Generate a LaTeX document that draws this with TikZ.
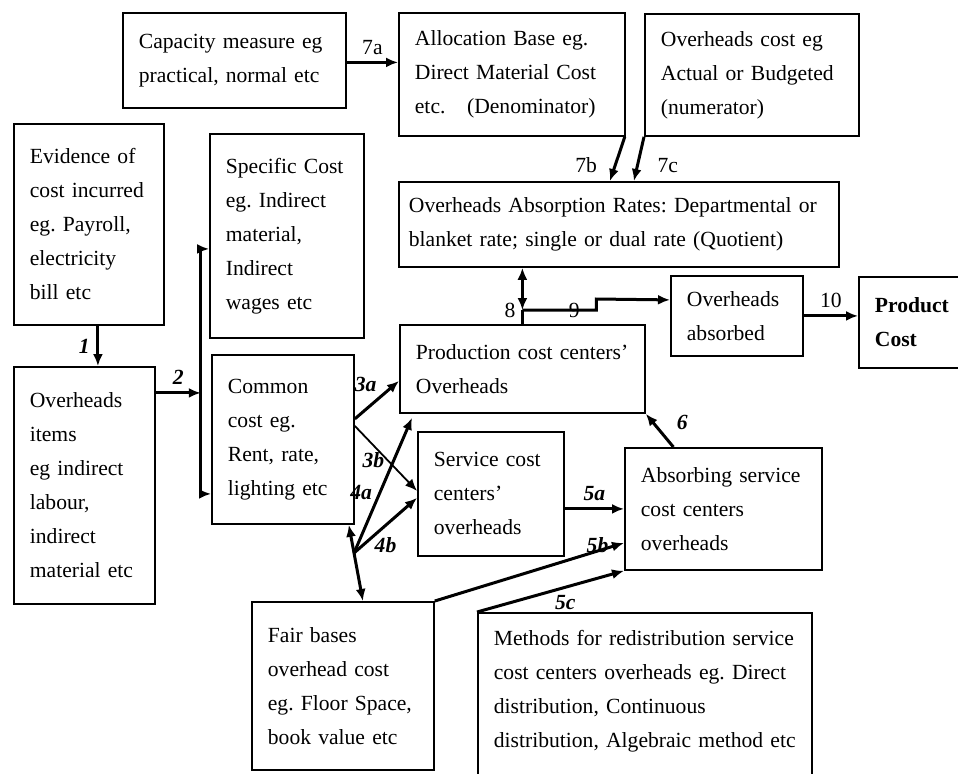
\documentclass[tikz,border=0pt]{standalone}
\usepackage{fontspec}
\setmainfont{Liberation Serif}
\usetikzlibrary{arrows.meta}
\frenchspacing

\begin{document}
\begin{tikzpicture}[x=0.5pt,y=-0.5pt,
  every node/.style={font=\fontsize{10.8}{17}\selectfont},
  box/.style={draw,line width=0.9pt,anchor=north west,align=left,inner xsep=8pt},
  link/.style={line width=1.5pt,->},
  tag/.style={font=\fontsize{10.8}{17}\selectfont\bfseries\itshape},
  >={Latex[length=6pt,width=5pt]}]
  \useasboundingbox (0,0) rectangle (958,773);
  \node[box,text width=95.5pt,minimum height=47.5pt] (cap) at (122,12) {Capacity measure eg\\practical, normal etc};
  \node[box,text width=97pt,minimum height=61.5pt] (alloc) at (398,12) {Allocation Base eg.\\Direct Material Cost\\etc.\quad (Denominator)};
  \node[box,text width=91pt,minimum height=61pt] (ohcost) at (644,13) {Overheads cost eg\\Actual or Budgeted\\(numerator)};
  \node[box,text width=59pt,minimum height=100.5pt] (evid) at (13,123) {Evidence of\\cost incurred\\eg. Payroll,\\electricity\\bill etc};
  \node[box,text width=61pt,minimum height=102pt] (spec) at (209,133) {Specific Cost\\eg. Indirect\\material,\\Indirect\\wages etc};
  \node[box,text width=54.5pt,minimum height=118.5pt] (items) at (13,366) {Overheads\\items\\eg indirect\\labour,\\indirect\\material etc};
  \node[box,text width=55pt,minimum height=84.5pt] (common) at (211,354) {Common\\cost eg.\\Rent, rate,\\lighting etc};
  \node[box,text width=210pt,inner xsep=5pt,minimum height=42.5pt] (rates) at (398,181) {Overheads Absorption Rates: Departmental or\\blanket rate; single or dual rate (Quotient)};
  \node[box,text width=50pt,minimum height=40pt] (absorbed) at (670,275) {Overheads\\absorbed};
  \node[box,text width=40pt,minimum height=45.5pt,font=\fontsize{10.8}{17}\selectfont\bfseries] (product) at (858,276) {Product\\Cost};
  \node[box,text width=106.5pt,minimum height=44pt] (prod) at (399,324) {Production cost centers’\\Overheads};
  \node[box,text width=57pt,minimum height=62pt] (service) at (417,431) {Service cost\\centers’\\overheads};
  \node[box,text width=82.5pt,minimum height=61pt] (absorbing) at (624,447) {Absorbing service\\cost centers\\overheads};
  \node[box,text width=75pt,minimum height=84pt] (fair) at (251,601) {Fair bases\\overhead cost\\eg. Floor Space,\\book value etc};
  \node[box,text width=151pt,inner ysep=8.5pt,text depth=70pt] (methods) at (477,612) {Methods for redistribution service\\cost centers overheads eg. Direct\\distribution, Continuous\\distribution, Algebraic method etc};

  \draw[link] ([yshift=-1pt]cap.east) -- node[above] {7a} ([yshift=6pt]alloc.west);
  \draw[link] ([xshift=-0.5pt]alloc.south east) -- node[pos=0.65,left=5pt] {7b} ([xshift=-4.5pt]rates.north);
  \draw[link] (ohcost.south west) -- node[pos=0.65,right=6pt] {7c} ([xshift=7.5pt]rates.north);
  \draw[link,<->] ([xshift=-48.25pt]rates.south) -- ([yshift=7pt]prod.north) coordinate (j);
  \draw[line width=1.5pt] (j) -- (prod.north);
  \node[left] at (j) {8};
  \draw[link] (j) -- node[pos=0.7] {9} ++(37pt,0) -- ++(0,5.5pt) -- ([yshift=8pt]absorbed.west);
  \draw[link] (absorbed.east) -- node[above] {10} ([yshift=3.25pt]product.west);
  \draw[link] ([xshift=-25pt]absorbing.north) -- node[tag,pos=0.75,right=8pt] {6} (prod.south east);
  \draw[link] ([xshift=4.5pt]evid.south) -- node[tag,left] {1} ([xshift=6.75pt]items.north);
  \draw[link] ([yshift=46.25pt]items.east) -- node[tag,above] {2} ++(22.5pt,0) coordinate (split);
  \draw[link] (split) |- ([yshift=-6.5pt]spec.west);
  \draw[link] (split) |- ([yshift=-27.25pt]common.west);
  \draw[link,<->] ([xshift=-3pt]common.south east) -- coordinate[pos=0.37] (fork) ([xshift=10pt]fair.north);
  \draw[link] ([yshift=10.25pt]common.east) -- node[tag,pos=0.9,left=5pt] {3a} ([yshift=-6pt]prod.west);
  \draw[link,line width=0.9pt] ([yshift=6.75pt]common.east) -- node[tag,pos=0.3,below=0pt] {3b} ([yshift=1.5pt]service.west);
  \draw[link] (fork) -- node[tag,pos=0.45,left=0pt] {4a} ([xshift=6.5pt,yshift=-2pt]prod.south west);
  \draw[link] (fork) -- node[tag,pos=0.5,below=2pt] {4b} ([yshift=-2pt]service.west);
  \draw[link] ([yshift=-7.5pt]service.east) -- node[tag,above] {5a} (absorbing.west);
  \draw[link] (fair.north east) -- node[tag,pos=0.86,yshift=3pt] {5b} ([yshift=-17pt]absorbing.west);
  \draw[link] (methods.north west) -- node[tag,pos=0.6,below=0pt] {5c} (absorbing.south west);
\end{tikzpicture}
\end{document}
